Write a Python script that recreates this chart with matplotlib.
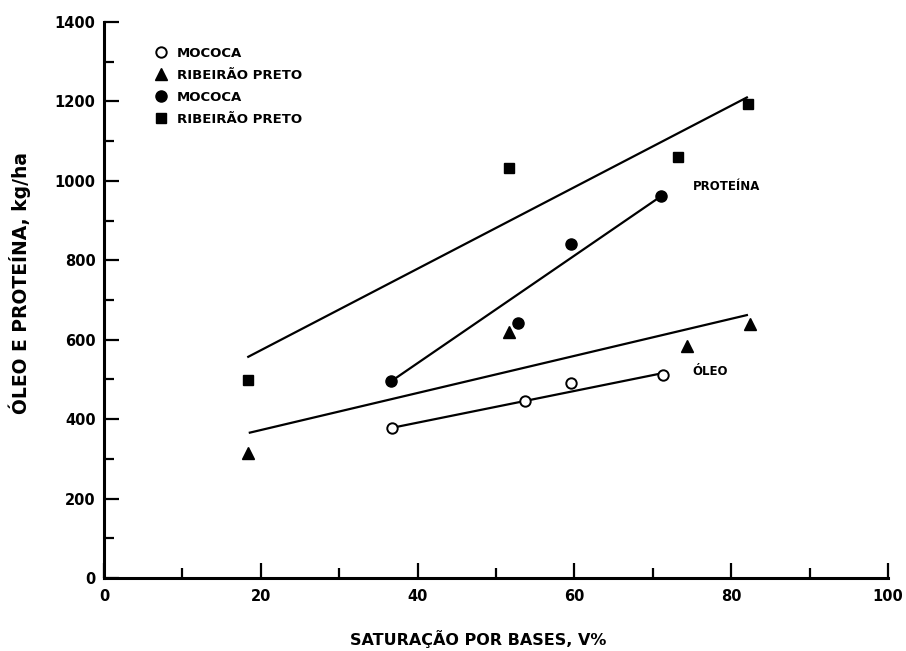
import matplotlib
matplotlib.use('Agg')
import matplotlib.pyplot as plt

# Pontos (V% , kg/ha)
oleo_mococa_x = [36.7, 53.7, 59.6, 71.3]
oleo_mococa_y = [378, 446, 492, 511]

oleo_rp_x = [18.4, 51.6, 74.3, 82.4]
oleo_rp_y = [315, 619, 583, 640]

prot_mococa_x = [36.6, 52.8, 59.6, 71.1]
prot_mococa_y = [495, 643, 840, 961]

prot_rp_x = [18.4, 51.7, 73.2, 82.2]
prot_rp_y = [499, 1032, 1059, 1193]

# Retas de regressão (extremos)
reta_oleo_mococa_x = [36.7, 71.3]
reta_oleo_mococa_y = [378, 516]
reta_oleo_rp_x = [18.6, 82.0]
reta_oleo_rp_y = [366, 662]
reta_prot_mococa_x = [36.6, 71.1]
reta_prot_mococa_y = [495, 962]
reta_prot_rp_x = [18.4, 82.0]
reta_prot_rp_y = [557, 1210]

plt.rcParams['font.family'] = ['DejaVu Sans']
plt.rcParams['font.weight'] = 'bold'

fig = plt.figure(figsize=(9.06, 6.51), dpi=100)
ax = fig.add_axes([104/906, 73/651, 784/906, 556/651])

lw = 1.6
ax.plot(reta_oleo_mococa_x, reta_oleo_mococa_y, color='black', lw=lw)
ax.plot(reta_oleo_rp_x, reta_oleo_rp_y, color='black', lw=lw)
ax.plot(reta_prot_mococa_x, reta_prot_mococa_y, color='black', lw=lw)
ax.plot(reta_prot_rp_x, reta_prot_rp_y, color='black', lw=lw)

ax.plot(oleo_mococa_x, oleo_mococa_y, 'o', ms=7.5, mfc='white', mec='black', mew=1.4,
        ls='none', label='MOCOCA', zorder=3)
ax.plot(oleo_rp_x, oleo_rp_y, '^', ms=8.5, color='black', ls='none',
        label='RIBEIRÃO PRETO', zorder=3)
ax.plot(prot_mococa_x, prot_mococa_y, 'o', ms=8, color='black', ls='none',
        label='MOCOCA', zorder=3)
ax.plot(prot_rp_x, prot_rp_y, 's', ms=7.5, color='black', ls='none',
        label='RIBEIRÃO PRETO', zorder=3)

ax.text(75.1, 986, 'PROTEÍNA', fontsize=8.5, va='center', ha='left')
ax.text(75.1, 520, 'ÓLEO', fontsize=8.5, va='center', ha='left')

ax.set_xlim(0, 100)
ax.set_ylim(0, 1400)
ax.set_xticks(range(0, 101, 20))
ax.set_xticks(range(10, 100, 20), minor=True)
ax.set_yticks(range(0, 1401, 200))
ax.set_yticks(range(100, 1400, 200), minor=True)
ax.tick_params(which='major', direction='in', length=11, width=1.6, labelsize=10.5, pad=6)
ax.tick_params(which='minor', direction='in', length=7, width=1.6)
ax.tick_params(axis='x', which='major', pad=8)

for s in ['top', 'right']:
    ax.spines[s].set_visible(False)
for s in ['left', 'bottom']:
    ax.spines[s].set_linewidth(2.2)

leg = ax.legend(loc='upper left', bbox_to_anchor=(0.058, 0.965), frameon=False,
                fontsize=9.5, handlelength=1.0, handletextpad=0.7, labelspacing=0.68,
                borderaxespad=0)

fig.text(478/906, 1 - 639/651, 'SATURAÇÃO POR BASES, V%', fontsize=11.5,
         ha='center', va='center')
fig.text(20/906, 1 - 283/651, 'ÓLEO E PROTEÍNA, kg/ha', fontsize=13.5,
         ha='center', va='center', rotation=90)

fig.savefig('out.png', dpi=100, facecolor='white')
